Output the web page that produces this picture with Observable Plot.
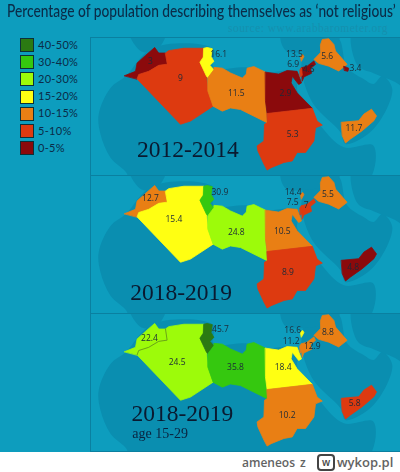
<!DOCTYPE html>
<html><head><meta charset="utf-8">
<script src="https://cdn.jsdelivr.net/npm/d3@7"></script>
<script src="https://cdn.jsdelivr.net/npm/@observablehq/plot@0.6"></script>
<style>
html,body{margin:0;padding:0;background:#fff;overflow:hidden}
#page{position:relative;width:400px;height:472px;overflow:hidden;background:#fff}
#sheet{position:absolute;left:0;top:0;width:400px;height:452px;background:#0d9dbe}
#sheet svg{position:absolute;left:0;top:0;background:transparent;filter:blur(.35px)}
#title{position:absolute;left:7px;top:1px;white-space:nowrap;font:500 16.5px Lato,sans-serif;color:#0b2c48;transform:scaleX(.833);transform-origin:0 0}
#source{position:absolute;left:228px;top:22px;white-space:nowrap;font:11.5px "Liberation Serif",serif;color:#1590ae;letter-spacing:.45px}
.sw{position:absolute;left:20px;width:12px;height:12px;border:1.5px solid #0d3038}
.lb{position:absolute;left:38px;font:11px Lato,sans-serif;color:#0b2c48;letter-spacing:.3px}
#foot{position:absolute;left:0;top:452px;width:400px;height:20px;color:#636363;font:600 12px "Open Sans",sans-serif}
#foot span{position:absolute;top:2px}
#foot .ic{left:317px;top:2px;width:14px;height:13px;border:2px solid #444;border-radius:4px;text-align:center;line-height:12px;font-size:10px;color:#444}
</style></head><body>
<div id="page"><div id="sheet">
<div id="title">Percentage of population describing themselves as ‘not religious’</div>
<div id="source">source: www.arabbarometer.org</div>
</div>
<div id="foot"><span style="left:242px">ameneos</span><span style="left:300px">z</span><span class="ic">w</span><span style="left:337px;font-size:13px;top:1px">wykop.pl</span></div>
</div>
<script>
const panels = ["2012-2014", "2018-2019", "2018-2019 age 15-29"];
const bands = ["40-50%", "30-40%", "20-30%", "15-20%", "10-15%", "5-10%", "0-5%"];
const bandColors = ["#2b7a12", "#35c80f", "#9dfb0a", "#ffff12", "#e97f14", "#dd3a10", "#8b0a0c"];

const morocco = [[-10.25,30.9],[-7.5,32],[-7.1,34.1],[-5,36],[-2.7,38],[-1.7,36.6],[0,36.6],[0.4,33.8],[-1.7,33.5],[-4.2,32],[-6.7,31.2],[-7.1,30.1]];
const algeria = [[0,36.6],[0.8,37.2],[4.6,37.8],[9.6,37.8],[9.4,35.5],[8.6,34.3],[10.25,30.75],[10.6,27],[11.9,23.25],[6.25,19.5],[3.75,18.7],[-7.1,30.1],[-6.7,31.2],[-4.2,32],[-1.7,33.5],[0.4,33.8]];
const tunisia = [[9.6,37.8],[10.4,38],[11.7,37.7],[11.4,35.75],[12.1,34.5],[11.1,33.5],[12.1,32.4],[10.6,30.4],[10.25,30.75],[8.6,34.3],[9.4,35.5]];
const libya = [[10.6,30.4],[12.1,32.4],[12.1,33],[14.2,32.8],[16.25,31.6],[19.2,30.3],[20.2,31.3],[20.4,32.8],[22.1,33.2],[23.75,32.4],[25,31.8],[25,24.5],[25.4,19.1],[18.75,22.4],[16.25,22.8],[14.2,22],[11.9,23.25],[10.6,27]];
const egypt = [[25,31.8],[28.3,31.3],[30.4,32.2],[32.9,32],[34,29.1],[33.3,28.7],[31.7,30.75],[31.4,29.1],[32.9,26.6],[36.7,22.7],[25.4,21.4],[25,24.5]];
const sudan = [[25.4,21.4],[36.7,22.7],[37.9,19.5],[39.2,18.5],[37.5,17.8],[37.1,14.5],[35,11.6],[32.9,11.6],[31.7,9.5],[29.6,9.1],[26.4,7.8],[25.4,7.2],[24.6,8.7],[23.1,12],[22.9,13.25],[24.6,14.5],[24.75,18.7],[25.4,19.1]];
const yemen = [[44,19.2],[48.3,19.6],[49.6,21.25],[51.5,22.5],[52.75,20.8],[52.1,19.6],[49.2,17.1],[46.25,15],[45,14],[44.2,15.8]];
const iraq = [[38.75,38.75],[39.2,40],[40.8,40.2],[42.1,38.75],[42.5,37.1],[45.4,33.75],[43.3,32.1],[40.8,33.3],[38.3,34],[37.1,35],[38.75,36.7]];
const jordan = [[34,32.9],[35.4,33.3],[37.1,34.6],[37.5,33.75],[36.25,32.7],[36.5,31.5],[34.6,30.6],[34.2,29.6]];
const lebanon = [[33.75,35.8],[34.3,36.25],[34.6,35.7],[34,34.6]];
const palestine = [[33.6,32.4],[34,32.9],[34.2,31],[33.7,30.6]];
const kuwait = [[44.6,33.25],[45.8,32.8],[45.6,32],[44.75,32.2]];
const shapes = {morocco, algeria, tunisia, libya, egypt, sudan, yemen, iraq, jordan, lebanon, palestine, kuwait};

const countryNames = ["morocco","algeria","tunisia","libya","egypt","sudan","jordan","lebanon","palestine","iraq","kuwait","yemen"];
const band2012 = ["0-5%","5-10%","15-20%","10-15%","0-5%","5-10%","0-5%","10-15%","5-10%","10-15%","0-5%","10-15%"];
const band2018 = ["10-15%","15-20%","30-40%","20-30%","10-15%","5-10%","5-10%","10-15%","5-10%","10-15%",null,"0-5%"];
const bandYouth = ["20-30%","20-30%","40-50%","30-40%","15-20%","10-15%","10-15%","15-20%","10-15%","10-15%",null,"5-10%"];
const panelBands = [band2012, band2018, bandYouth];

const labels2012 = ["3","9","16.1","11.5","2.9","5.3","4.5","13.5","6.9","5.6","3.4","11.7"];
const labels2018 = ["12.7","15.4","30.9","24.8","10.5","8.9","7","14.4","7.5","5.5",null,"4.8"];
const labelsYouth = ["22.4","24.5","45.7","35.8","18.4","10.2","12.9","16.6","11.2","8.8",null,"5.8"];
const lon2012 = [-3.75,3.75,13.3,17.7,30,31.8,35.8,32.25,31.9,40.4,47.5,47.1];
const lat2012 = [34.5,30.3,36.3,26.6,26.6,16.3,32.4,36.2,33.7,35.9,32.8,17.7];
const lon2018 = [-3.75,2.1,13.6,17.7,29.2,30.6,35.2,31.9,31.8,40.6,null,46.9];
const lat2018 = [34.9,29.4,36.3,26.3,26.6,16.2,33,36.3,33.7,35.75,null,17.4];
const lonYouth = [-4,2.9,13.75,17.5,29.4,30.4,36.7,31.8,31.4,40.6,null,47.3];
const latYouth = [34.4,28.2,36.6,26.9,26.9,15,32.2,36.3,33.6,35.9,null,18];

const africaLand = [[-10,30.75],[-13.75,27.8],[-16.7,21.2],[-16.25,16.2],[-13.75,10.3],[-9.6,6.2],[-9.6,3],[49.6,3],[52,13.3],[44.6,12.9],[38.75,18.3],[33,27],[33,31.8],[25,31.8],[20,33],[12,33],[12,37.6],[-3,38]];
const arabiaLand = [[34.2,30.8],[37,23.75],[43.75,16.7],[45,13.75],[52,17.5],[56.7,27.5],[54.2,30.8],[52,28.8],[49.6,30],[45.4,33],[43,40.5],[35,38],[34,34]];
const iranLand = [[47,43],[62,43],[62,27],[57,29.5],[52,31.5],[48,33.5]];
const turkeyLand = [[29,42],[44,42],[42,38.5],[36,37],[30,37.3]];
const spainLand = [[-9,42],[0,42],[-2,37.6],[-6,37]];
const backdrop = [africaLand, arabiaLand, iranLand, turkeyLand, spainLand];

const yearLon = [5.6, 3.9, 4.2];
const yearLat = [10.5, 9.3, 13.4];
const yearText = ["2012-2014", "2018-2019", "2018-2019"];

const land = [];
backdrop.forEach((ring, i) => panels.forEach(p => ring.forEach(([x, y]) => land.push({x, y, p, k: p + i}))));

const rows = [];
panels.forEach((p, pi) => countryNames.forEach((c, ci) => {
  const b = panelBands[pi][ci];
  if (b) shapes[c].forEach(([x, y]) => rows.push({x, y, p, k: p + c, b}));
}));

const labelSets = [[labels2012, lon2012, lat2012], [labels2018, lon2018, lat2018], [labelsYouth, lonYouth, latYouth]];
const texts = [];
labelSets.forEach(([t, xs, ys], pi) => t.forEach((s, i) => { if (s) texts.push({s, x: xs[i], y: ys[i], p: panels[pi]}); }));
const years = yearText.map((s, i) => ({s, x: yearLon[i], y: yearLat[i], p: panels[i]}));
const youthNote = [{s: "age 15-29", x: -8.3, y: 9.2, p: panels[2]}];
const youthBorder = [[-7.1,30.1],[-6.7,31.2],[-4.2,32],[-1.7,33.5],[0.4,33.8],[0,36.6]].map(([x, y]) => ({x, y, p: panels[2]}));

const chart = Plot.plot({
  width: 400, height: 452,
  marginTop: 36, marginBottom: 0, marginLeft: 90, marginRight: 0,
  style: {background: "transparent"},
  x: {domain: [-18.75, 58.75], axis: null},
  y: {domain: [5.83, 40.5], axis: null},
  fy: {domain: panels, padding: 0, axis: null},
  color: {domain: bands, range: bandColors},
  marks: [
    Plot.line(land, {x: "x", y: "y", z: "k", fy: "p", fill: "#0a8eb0", stroke: "none", curve: "catmull-rom-closed", clip: "frame"}),
    Plot.frame({stroke: "#0a80a0", strokeWidth: 1}),
    Plot.line(rows, {x: "x", y: "y", z: "k", fy: "p", fill: "b", stroke: "b", strokeWidth: 0.8, strokeLinejoin: "round", curve: "linear-closed"}),
    Plot.line(youthBorder, {x: "x", y: "y", fy: "p", stroke: "#5f8f18", strokeWidth: 0.8}),
    Plot.text(texts, {x: "x", y: "y", fy: "p", text: "s", fontSize: 8.5, fill: "#1c2a38", fontFamily: "Open Sans, sans-serif"}),
    Plot.text(years, {x: "x", y: "y", fy: "p", text: "s", fontSize: 23.5, fill: "#0a1a30", lineAnchor: "bottom", fontFamily: "Liberation Serif, serif"}),
    Plot.text(youthNote, {x: "x", y: "y", fy: "p", text: "s", fontSize: 14, fill: "#0a2440", textAnchor: "start", lineAnchor: "bottom", fontFamily: "Liberation Serif, serif"})
  ]
});
const sheet = document.getElementById("sheet");
sheet.prepend(chart);
bands.forEach((b, i) => {
  const top = 38 + i * 17.2;
  const s = document.createElement("div"); s.className = "sw"; s.style.top = top + "px"; s.style.background = bandColors[i]; sheet.append(s);
  const l = document.createElement("div"); l.className = "lb"; l.textContent = b; l.style.top = (top - 0.5) + "px"; sheet.append(l);
});
</script>
</body></html>
